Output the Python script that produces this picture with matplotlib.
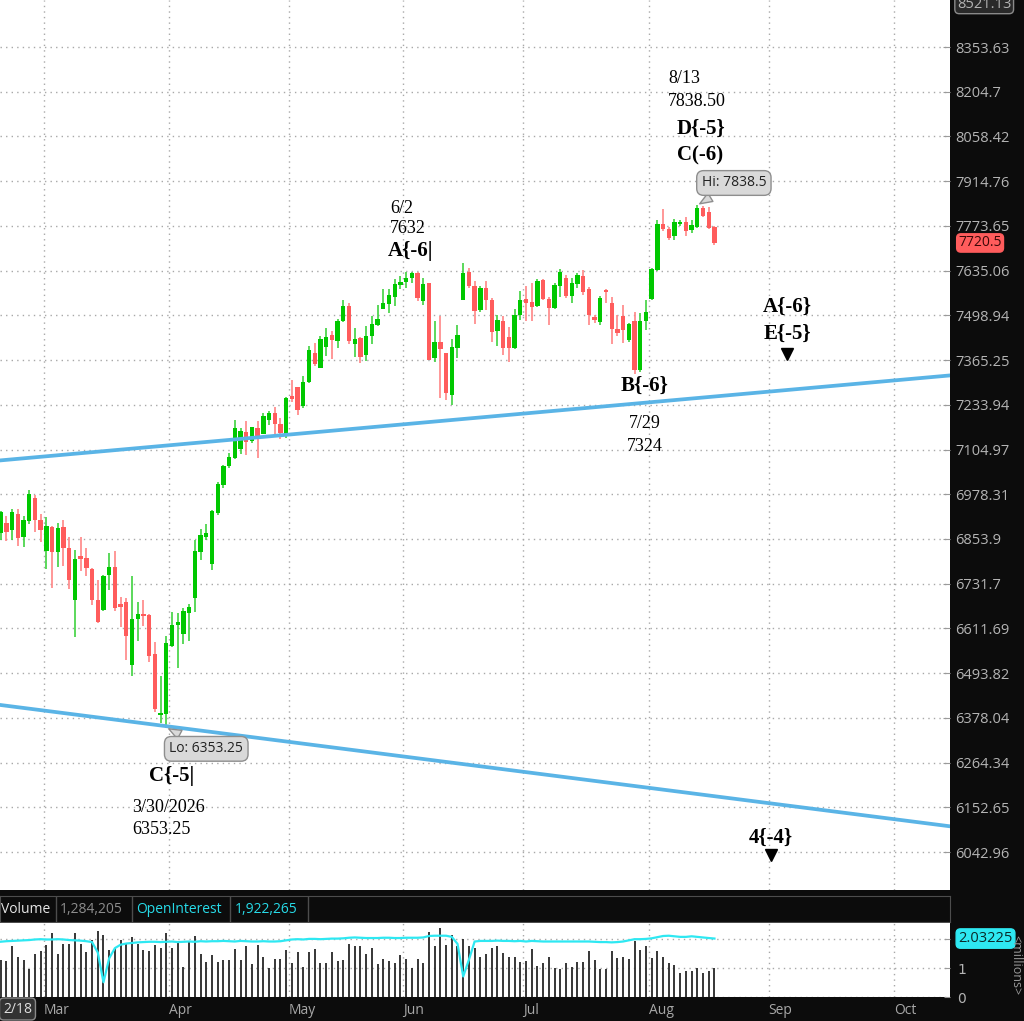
import numpy as np
import matplotlib.pyplot as plt
from matplotlib.ticker import FixedLocator, FixedFormatter, NullLocator
import matplotlib.transforms as mtrans

# daily bars from 2/18 (bar 0) to 8/14 (bar 125)
opens = [6869, 6898, 6878, 6922, 6860, 6903, 6967, 6905, 6822, 6887,
         6819, 6887, 6830, 6688, 6807, 6802, 6772, 6688, 6662, 6755,
         6778, 6677, 6681, 6514, 6638, 6650, 6648, 6544, 6385, 6387,
         6565, 6622, 6596, 6653, 6692, 6819, 6860, 6784, 6926, 7005,
         7059, 7081, 7105, 7156, 7129, 7167, 7150, 7189, 7210, 7179,
         7148, 7260, 7285, 7229, 7300, 7385, 7342, 7405, 7441, 7421,
         7481, 7528, 7412, 7431, 7379, 7436, 7471, 7519, 7534, 7555,
         7592, 7599, 7613, 7628, 7543, 7597, 7372, 7418, 7385, 7263,
         7402, 7545, 7630, 7589, 7515, 7582, 7545, 7452, 7481, 7434,
         7402, 7499, 7548, 7540, 7528, 7605, 7548, 7521, 7589, 7613,
         7558, 7594, 7620, 7578, 7493, 7478, 7576, 7536, 7457, 7496,
         7424, 7481, 7336, 7481, 7549, 7636, 7780, 7764, 7741, 7781,
         7785, 7760, 7770, 7831, 7816, 7770]
highs = [6931, 6918, 6937, 6937, 6918, 6991, 6977, 6923, 6915, 6891,
         6898, 6905, 6859, 6824, 6859, 6828, 6775, 6743, 6755, 6814,
         6821, 6697, 6692, 6753, 6683, 6688, 6650, 6575, 6487, 6592,
         6656, 6653, 6666, 6677, 6852, 6880, 6894, 6933, 7012, 7062,
         7094, 7191, 7167, 7186, 7170, 7186, 7210, 7215, 7227, 7196,
         7258, 7307, 7286, 7317, 7406, 7417, 7436, 7461, 7451, 7488,
         7545, 7536, 7461, 7434, 7466, 7496, 7530, 7578, 7578, 7610,
         7618, 7630, 7632, 7630, 7613, 7598, 7481, 7496, 7386, 7428,
         7469, 7657, 7644, 7602, 7589, 7604, 7551, 7501, 7498, 7464,
         7518, 7573, 7587, 7597, 7610, 7610, 7554, 7597, 7640, 7623,
         7613, 7628, 7638, 7585, 7501, 7558, 7578, 7554, 7501, 7530,
         7476, 7508, 7506, 7545, 7642, 7791, 7826, 7770, 7795, 7793,
         7803, 7793, 7838.5, 7836, 7832, 7774]
lows = [6852, 6848, 6850, 6834, 6831, 6896, 6874, 6846, 6772, 6720,
        6776, 6781, 6717, 6588, 6766, 6752, 6675, 6627, 6657, 6715,
        6657, 6615, 6528, 6487, 6579, 6618, 6522, 6392, 6366, 6353.25,
        6563, 6507, 6570, 6579, 6656, 6796, 6850, 6768, 6921, 6997,
        7053, 7078, 7091, 7088, 7124, 7081, 7148, 7175, 7148, 7134,
        7139, 7242, 7205, 7226, 7298, 7347, 7341, 7377, 7369, 7402,
        7478, 7414, 7375, 7357, 7362, 7412, 7468, 7518, 7506, 7526,
        7579, 7582, 7597, 7543, 7530, 7365, 7359, 7253, 7248, 7234,
        7372, 7544, 7582, 7474, 7510, 7515, 7418, 7406, 7380, 7360,
        7399, 7486, 7481, 7481, 7525, 7545, 7471, 7518, 7555, 7550,
        7536, 7582, 7561, 7471, 7475, 7471, 7536, 7413, 7436, 7417,
        7420, 7324, 7330, 7456, 7545, 7633, 7757, 7729, 7729, 7774,
        7741, 7752, 7767, 7800, 7764, 7715]
closes = [6929, 6874, 6929, 6857, 6905, 6979, 6906, 6878, 6891, 6819,
          6883, 6830, 6741, 6800, 6800, 6773, 6688, 6629, 6753, 6778,
          6666, 6670, 6592, 6637, 6650, 6644, 6538, 6400, 6390, 6573,
          6622, 6630, 6657, 6668, 6821, 6866, 6871, 6932, 7008, 7057,
          7084, 7167, 7157, 7127, 7169, 7143, 7202, 7210, 7177, 7153,
          7253, 7251, 7219, 7302, 7394, 7354, 7428, 7434, 7424, 7481,
          7528, 7421, 7428, 7375, 7438, 7474, 7489, 7537, 7561, 7594,
          7599, 7613, 7628, 7551, 7594, 7366, 7418, 7397, 7268, 7405,
          7441, 7628, 7587, 7512, 7582, 7545, 7448, 7484, 7402, 7402,
          7501, 7545, 7536, 7524, 7602, 7548, 7521, 7592, 7631, 7557,
          7597, 7621, 7571, 7501, 7484, 7551, 7571, 7457, 7447, 7454,
          7474, 7336, 7481, 7508, 7639, 7780, 7764, 7736, 7785, 7786,
          7757, 7775, 7831, 7805, 7767, 7720.5]

# volume and open interest, millions
volume = [1.284205, 1.24, 1.76, 1.41, 1.30, 0.98, 1.49, 1.59, 1.80, 2.21,
          1.49, 1.86, 1.86, 2.21, 1.86, 1.55, 1.98, 2.30, 2.15, 1.63,
          1.69, 1.99, 1.86, 2.07, 1.84, 1.63, 1.59, 1.80, 1.72, 2.24,
          1.72, 1.87, 1.06, 1.95, 2.13, 1.49, 1.23, 1.46, 1.23, 1.29,
          1.29, 1.67, 1.29, 1.76, 1.15, 1.80, 1.38, 1.01, 1.32, 1.32,
          1.63, 1.20, 1.55, 1.06, 1.55, 1.67, 1.20, 1.20, 1.55, 1.24,
          1.29, 1.86, 1.76, 1.76, 1.49, 1.72, 1.15, 1.32, 1.24, 1.18,
          1.46, 1.32, 1.01, 1.32, 1.18, 2.26, 1.76, 2.41, 1.80, 2.15,
          1.76, 2.03, 1.78, 1.69, 1.41, 1.49, 1.72, 1.76, 1.53, 1.41,
          1.41, 1.21, 1.24, 1.67, 1.09, 1.18, 1.41, 1.01, 0.98, 1.18,
          1.06, 1.23, 1.23, 1.59, 1.29, 0.98, 0.98, 1.59, 1.36, 1.40,
          1.32, 1.95, 1.63, 1.76, 1.36, 1.59, 1.40, 1.18, 1.13, 0.84,
          0.92, 0.92, 1.01, 0.83, 0.92, 1.01]
open_interest = [1.922265, 1.94, 1.95, 1.96, 1.97, 1.98, 2.00, 2.01, 2.00, 2.00,
                 2.01, 2.00, 1.98, 1.97, 1.96, 1.94, 1.91, 1.55, 0.52, 1.35,
                 1.70, 1.82, 1.86, 1.88, 1.90, 1.91, 1.92, 1.92, 1.91, 1.92,
                 1.93, 1.91, 1.92, 1.93, 1.92, 1.94, 1.93, 1.94, 1.94, 1.95,
                 1.94, 1.93, 1.95, 1.94, 1.93, 1.93, 1.94, 1.93, 1.93, 1.94,
                 1.97, 2.00, 2.01, 2.00, 2.02, 2.02, 2.01, 2.02, 2.03, 2.03,
                 2.04, 2.06, 2.07, 2.06, 2.05, 2.05, 2.05, 2.06, 2.06, 2.05,
                 2.05, 2.06, 2.06, 2.06, 2.07, 2.12, 2.13, 2.13, 2.13, 2.09,
                 1.85, 0.72, 1.30, 1.93, 1.95, 1.95, 1.95, 1.96, 1.95, 1.95,
                 1.94, 1.95, 1.93, 1.95, 1.94, 1.93, 1.93, 1.93, 1.93, 1.93,
                 1.93, 1.93, 1.93, 1.93, 1.92, 1.91, 1.91, 1.90, 1.91, 1.93,
                 1.97, 2.01, 2.01, 2.02, 2.04, 2.08, 2.12, 2.13, 2.11, 2.09,
                 2.09, 2.11, 2.09, 2.07, 2.05, 2.03225]

price_ticks = [8353.63, 8204.7, 8058.42, 7914.76, 7773.65, 7635.06, 7498.94,
               7365.25, 7233.94, 7104.97, 6978.31, 6853.9, 6731.7, 6611.69,
               6493.82, 6378.04, 6264.34, 6152.65, 6042.96]
price_tick_labels = ['8353.63', '8204.7', '8058.42', '7914.76', '7773.65',
                     '7635.06', '7498.94', '7365.25', '7233.94', '7104.97',
                     '6978.31', '6853.9', '6731.7', '6611.69', '6493.82',
                     '6378.04', '6264.34', '6152.65', '6042.96']
month_labels = ['Mar', 'Apr', 'May', 'Jun', 'Jul', 'Aug', 'Sep', 'Oct']
month_start_bar = [8, 30, 51, 71, 92, 114, 135, 157]

# channel lines: two anchor points (bar, price)
upper_channel = [(0, 7074), (165, 7318)]
lower_channel = [(0, 6411), (165, 6108)]

W, H = 1024, 1021
fig = plt.figure(figsize=(W / 100, H / 100), dpi=100, facecolor='#0c0c0c')


def px_axes(x0, y0, x1, y1):
    return fig.add_axes([x0 / W, 1 - y1 / H, (x1 - x0) / W, (y1 - y0) / H])


SANS = ['Open Sans', 'DejaVu Sans']
SERIF = ['Liberation Serif', 'DejaVu Serif']
XLIM = (-0.12, 166.25)
grid_x = [b - 0.5 for b in month_start_bar]
dots = (0, (1, 3))

# ---------------- price panel ----------------
ax = px_axes(0, 0, 950, 890)
ax.set_facecolor('white')
ax.set_yscale('log')
ax.set_xlim(*XLIM)
ax.set_ylim(5951.3, 8513.1)
for s in ax.spines.values():
    s.set_visible(False)

ax.yaxis.set_major_locator(FixedLocator(price_ticks))
ax.yaxis.set_major_formatter(FixedFormatter(price_tick_labels))
ax.yaxis.set_minor_locator(NullLocator())
ax.yaxis.tick_right()
ax.tick_params(axis='y', direction='in', length=5, color='#9a9a9a',
               labelcolor='#b4b4b4', labelsize=10.5, pad=4)
for lab in ax.get_yticklabels():
    lab.set_family(SANS)
ax.set_xticks(grid_x)
ax.set_xticklabels([])
ax.tick_params(axis='x', length=0)
ax.grid(True, axis='both', color='#a8a8a8', linestyle=dots, linewidth=1.0)

o = np.array(opens, float)
h = np.array(highs, float)
l = np.array(lows, float)
c = np.array(closes, float)
idx = np.arange(len(o))
up = c >= o
lo_b = np.minimum(o, c)
hi_b = np.maximum(np.maximum(o, c), lo_b * 1.0005)

ax.vlines(idx[up], l[up], h[up], color='#3fd23f', lw=1.2, zorder=3)
ax.vlines(idx[~up], l[~up], h[~up], color='#ff8585', lw=1.2, zorder=3)
ax.bar(idx[up], hi_b[up] - lo_b[up], bottom=lo_b[up], width=0.76,
       color='#00c800', zorder=4)
ax.bar(idx[~up], hi_b[~up] - lo_b[~up], bottom=lo_b[~up], width=0.76,
       color='#ff5c5c', zorder=4)


def channel(pts, xs):
    (x0, p0), (x1, p1) = pts
    return np.exp(np.log(p0) + (np.log(p1) - np.log(p0)) * (xs - x0) / (x1 - x0))


xs = np.array([-2.0, 170.0])
for pts in (upper_channel, lower_channel):
    ax.plot(xs, channel(pts, xs), color='#5ab4e6', lw=2.7, zorder=5,
            solid_capstyle='butt')

# wave labels
norm = dict(family=SERIF, fontsize=13, color='black', zorder=6)
bold = dict(family=SERIF, fontsize=15, fontweight='bold', color='black', zorder=6)
ax.text(116.9, 8250, '8/13', ha='left', va='center', **norm)
ax.text(116.9, 8174, '7838.50', ha='left', va='center', **norm)
ax.text(122.6, 8082, 'D{-5}', ha='center', va='center', **bold)
ax.text(122.5, 7998, 'C(-6)', ha='center', va='center', **bold)
ax.text(68.2, 7827, '6/2', ha='left', va='center', **norm)
ax.text(68.2, 7764, '7632', ha='left', va='center', **norm)
ax.text(67.8, 7695, 'A{-6|', ha='left', va='center', **bold)
ax.text(137.7, 7525, 'A{-6}', ha='center', va='center', **bold)
ax.text(137.7, 7444, 'E{-5}', ha='center', va='center', **bold)
ax.text(112.8, 7289, 'B{-6}', ha='center', va='center', **bold)
ax.text(112.8, 7179, '7/29', ha='center', va='center', **norm)
ax.text(112.8, 7115, '7324', ha='center', va='center', **norm)
ax.text(30.0, 6230, 'C{-5|', ha='center', va='center', **bold)
ax.text(23.0, 6153, '3/30/2026', ha='left', va='center', **norm)
ax.text(23.0, 6099, '6353.25', ha='left', va='center', **norm)
ax.text(134.9, 6077, '4{-4}', ha='center', va='center', **bold)
ax.plot([137.7, 134.9], [7383, 6036], linestyle='none', marker='v',
        markersize=8, color='black', zorder=6)

# Hi / Lo callouts
call_box = dict(boxstyle='round,pad=0.35,rounding_size=0.5', fc='#d9d9d9',
                ec='#8e8e8e', lw=1)
call_arrow = dict(arrowstyle='wedge,tail_width=0.7,shrink_factor=0.5',
                  fc='#d9d9d9', ec='#8e8e8e', lw=1)
ax.annotate('Hi: 7838.5', xy=(idx[int(np.argmax(h))], h.max()),
            xytext=(128.4, 7909), ha='center', va='center', fontsize=10,
            family=SANS, color='#222222', bbox=call_box, arrowprops=call_arrow,
            zorder=7)
ax.annotate('Lo: 6353.25', xy=(idx[int(np.argmin(l))], l.min()),
            xytext=(36.0, 6299), ha='center', va='center', fontsize=10,
            family=SANS, color='#222222', bbox=call_box, arrowprops=call_arrow,
            zorder=7)

# last price and axis max labels
ax.annotate(f'{c[-1]:g}', xy=(1, c[-1]), xycoords=('axes fraction', 'data'),
            xytext=(6, 0), textcoords='offset points', ha='left', va='center',
            fontsize=10, family=SANS, color='#3a0808', annotation_clip=False,
            bbox=dict(boxstyle='round,pad=0.12,rounding_size=0.3',
                      fc='#ff5c5c', ec='#ff5c5c'))
fig.text(957 / W, 1 - 4 / H, '8521.13', ha='left', va='center', fontsize=10.5,
         family=SANS, color='#b4b4b4',
         bbox=dict(boxstyle='round,pad=0.15,rounding_size=0.3',
                   fc='#2a2a2a', ec='#8a8a8a'))

# ---------------- header strip ----------------
hx = px_axes(0, 896, 950, 922)
hx.set_facecolor('#0c0c0c')
hx.set_xlim(0, 950)
hx.set_ylim(0, 26)
hx.set_xticks([])
hx.set_yticks([])
for s in hx.spines.values():
    s.set_color('#4d4d4d')
for xv in (56, 132, 230, 308):
    hx.axvline(xv, color='#4d4d4d', lw=1)
hx.text(1, 13, 'Volume', color='#e6e6e6', fontsize=10, va='center', family=SANS)
hx.text(60, 13, f'{volume[0] * 1e6:,.0f}', color='#8c8c8c', fontsize=10,
        va='center', family=SANS)
hx.text(136, 13, 'OpenInterest', color='#27dbe8', fontsize=10, va='center',
        family=SANS)
hx.text(235, 13, f'{open_interest[0] * 1e6:,.0f}', color='#27dbe8',
        fontsize=10, va='center', family=SANS)

# ---------------- volume panel ----------------
vx = px_axes(0, 923, 950, 997.3)
vx.set_facecolor('white')
vx.set_xlim(*XLIM)
vx.set_ylim(0, 2.57)
for s in vx.spines.values():
    s.set_visible(False)
vx.vlines(idx, 0, volume, color='#262626', lw=1.3, zorder=3)
vx.plot(idx, open_interest, color='#2ee8f2', lw=1.6, zorder=4)
vx.set_xticks(grid_x)
vx.set_xticklabels([])
vx.tick_params(axis='x', length=0)
vx.yaxis.tick_right()
vx.set_yticks([0, 1, 2])
vx.set_yticklabels(['0', '1', ''])
vx.tick_params(axis='y', direction='in', length=4, color='#9a9a9a',
               labelcolor='#b4b4b4', labelsize=10, pad=5)
vx.grid(True, axis='both', color='#a8a8a8', linestyle=dots, linewidth=1.0)
vx.annotate(f'{open_interest[-1]:.5f}', xy=(1, open_interest[-1]),
            xycoords=('axes fraction', 'data'), xytext=(6, 0),
            textcoords='offset points', ha='left', va='center', fontsize=10.5,
            family=SANS, color='#0a2a2a', annotation_clip=False,
            bbox=dict(boxstyle='round,pad=0.15,rounding_size=0.3',
                      fc='#2ee8f2', ec='#2ee8f2'))
fig.text(1016 / W, 1 - 965 / H, '<millions>', rotation=270, ha='center',
         va='center', fontsize=9, family=SANS, color='#9a9a9a')

# month labels along the bottom strip
tr = mtrans.blended_transform_factory(vx.transData, vx.transAxes)
for gx, name in zip(grid_x, month_labels):
    vx.text(gx, -0.18, name, transform=tr, ha='left', va='center',
            fontsize=10, family=SANS, color='#a8a8a8', clip_on=False)
fig.text(3 / W, 1 - 1009 / H, '2/18', ha='left', va='center', fontsize=10,
         family=SANS, color='#dddddd',
         bbox=dict(boxstyle='round,pad=0.25,rounding_size=0.3',
                   fc='#333333', ec='#8a8a8a'))

fig.savefig('out.png', dpi=100, facecolor=fig.get_facecolor())
